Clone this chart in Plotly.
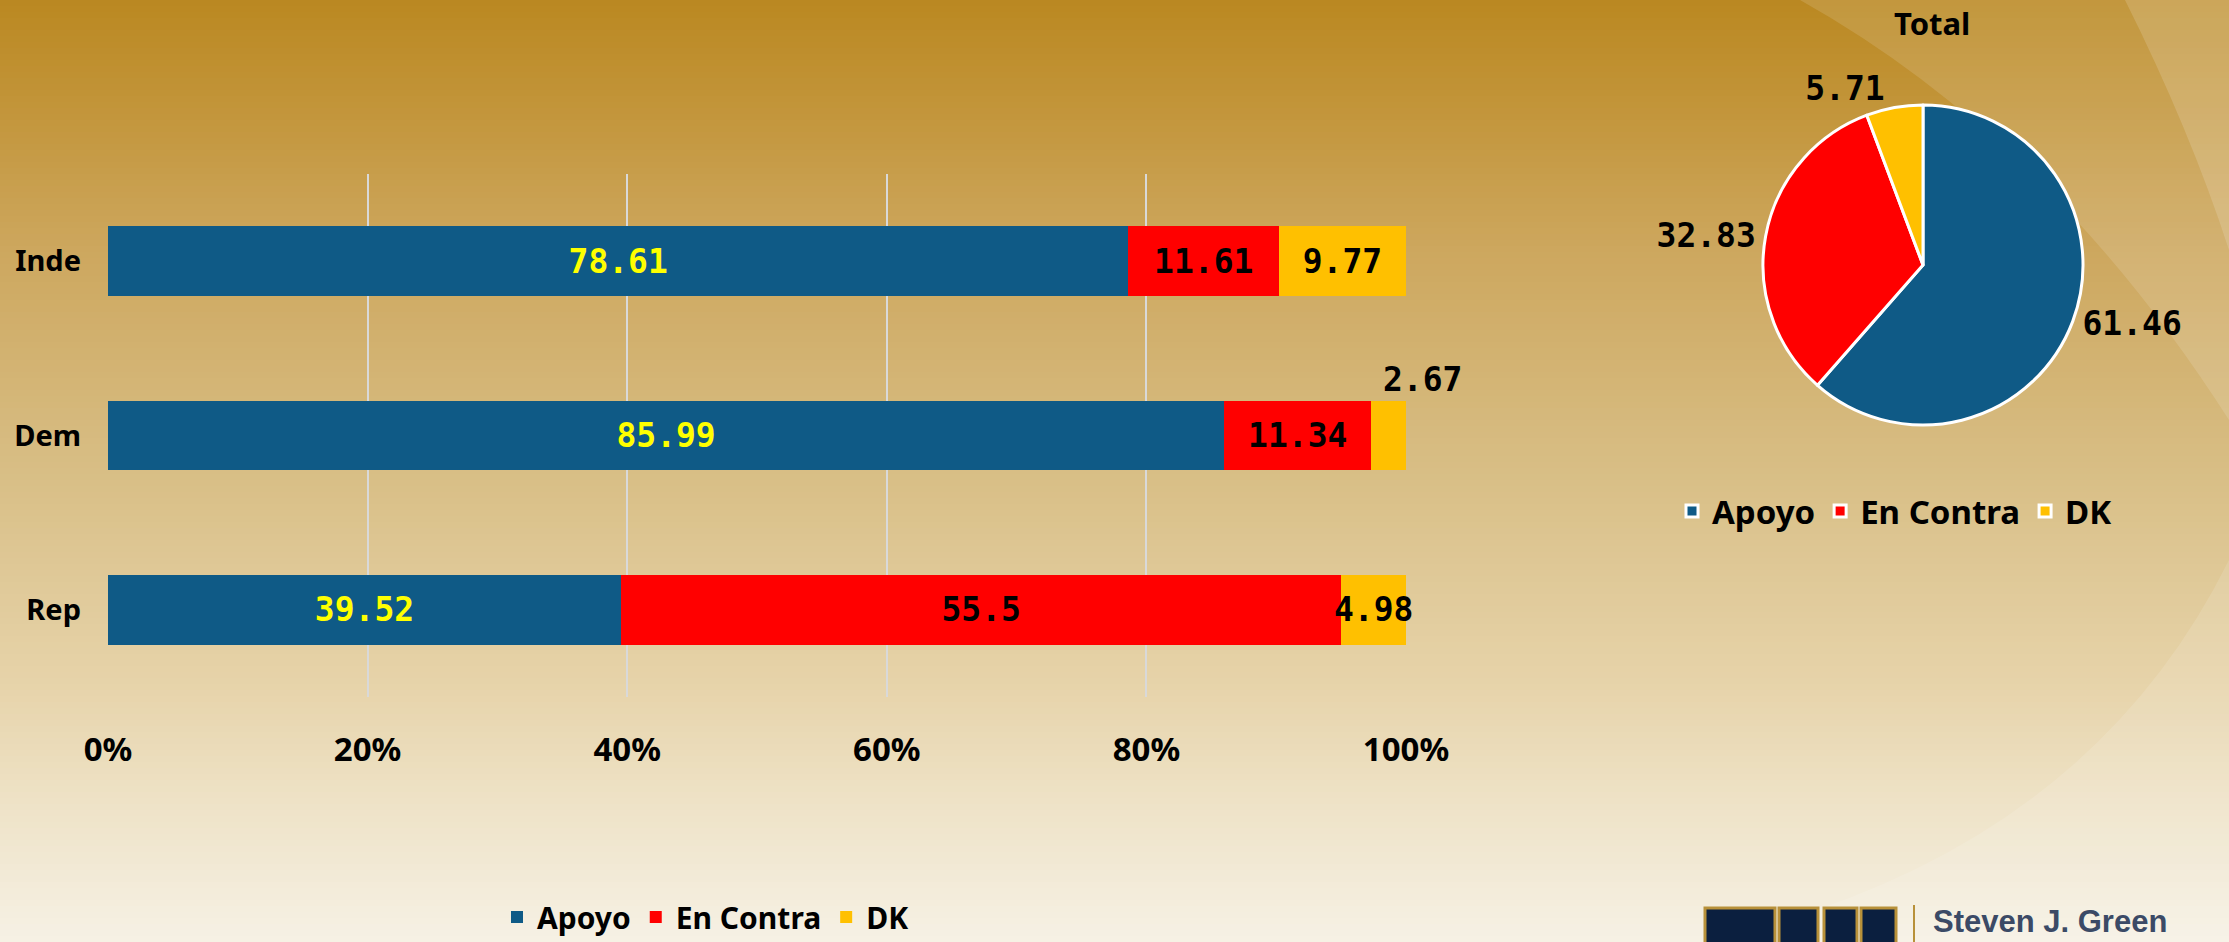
import plotly.graph_objects as go

# ---------------- data ----------------
groups = ["Inde", "Dem", "Rep"]
apoyo = [78.61, 85.99, 39.52]
en_contra = [11.61, 11.34, 55.5]
dk = [9.77, 2.67, 4.98]
series_names = ["Apoyo", "En Contra", "DK"]
series_colors = ["#0F5A86", "#FF0000", "#FFC000"]
label_colors = ["#FFFF00", "#000000", "#000000"]
pie_title = "Total"
pie_values = [61.46, 32.83, 5.71]
x_ticks = [0, 20, 40, 60, 80, 100]
x_tick_labels = ["0%", "20%", "40%", "60%", "80%", "100%"]
logo_text = "Steven J. Green"
logo_text2 = "School of International & Public Affairs"

W, H = 2229, 942
SANS = "Noto Sans"
MONO = "DejaVu Sans Mono"


def px_x(x):
    return x / W


def px_y(y):
    return 1 - y / H


fig = go.Figure()
annotations = []
label_font = dict(family=MONO, size=33, color="#000000", weight="bold")

# ---------------- stacked bars ----------------
series_vals = [apoyo, en_contra, dk]
for name, vals, color, tcol in zip(series_names, series_vals, series_colors, label_colors):
    if name == "DK":
        txt = [f"{v}" if v >= 6 else "" for v in vals]
    else:
        txt = [f"{v}" for v in vals]
    fig.add_trace(go.Bar(
        y=groups, x=vals, orientation="h", name=name,
        marker=dict(color=color, line=dict(width=0)),
        width=0.4,
        text=txt, textposition="inside", insidetextanchor="middle",
        textangle=0, constraintext="none", cliponaxis=False,
        textfont=dict(family=MONO, size=33, color=tcol, weight="bold"),
        hoverinfo="skip",
        legend="legend",
    ))

# small DK values: centred (overflowing) or placed above the bar
for g, a, e, d in zip(groups, apoyo, en_contra, dk):
    if d < 3:
        annotations.append(dict(
            x=a + e + d, y=g, xref="x", yref="y", text=f"{d}",
            showarrow=False, xanchor="center", yanchor="middle",
            xshift=16, yshift=56, font=label_font,
        ))
    elif d < 6:
        annotations.append(dict(
            x=a + e + d / 2, y=g, xref="x", yref="y", text=f"{d}",
            showarrow=False, xanchor="center", yanchor="middle",
            font=label_font,
        ))

# ---------------- pie ----------------
fig.add_trace(go.Pie(
    labels=series_names, values=pie_values,
    marker=dict(colors=series_colors, line=dict(color="#FFFFFF", width=3)),
    sort=False, direction="clockwise", rotation=0,
    textposition="outside", textinfo="value", texttemplate="%{value}",
    textfont=label_font,
    domain=dict(x=[px_x(1763), px_x(2083)], y=[px_y(425), px_y(105)]),
    legend="legend2", hoverinfo="skip",
))

annotations.append(dict(
    x=px_x(1932), y=px_y(23), xref="paper", yref="paper", text=pie_title,
    showarrow=False, xanchor="center", yanchor="middle",
    font=dict(family=SANS, size=31, color="#000000", weight="bold"),
))

# ---------------- background gradient ----------------
stops = [
    (0, (186, 136, 33)),
    (100, (194, 148, 56)),
    (250, (205, 167, 94)),
    (470, (216, 190, 133)),
    (690, (231, 212, 171)),
    (800, (238, 226, 198)),
    (942, (246, 241, 229)),
]


def grad_color(y):
    for (y0, c0), (y1, c1) in zip(stops[:-1], stops[1:]):
        if y0 <= y <= y1:
            t = (y - y0) / (y1 - y0)
            c = [round(c0[i] + (c1[i] - c0[i]) * t) for i in range(3)]
            return f"rgb({c[0]},{c[1]},{c[2]})"
    return "rgb(246,241,229)"


shapes = []
step = 6
for y in range(0, H, step):
    shapes.append(dict(
        type="rect", xref="paper", yref="paper", layer="below",
        x0=0, x1=1, y0=px_y(min(y + step + 1, H)), y1=px_y(y),
        fillcolor=grad_color(y + step / 2), line=dict(width=0),
    ))


def path_paper(points_px):
    parts = []
    for cmd, pts in points_px:
        coords = " ".join(f"{px_x(x):.5f},{px_y(y):.5f}" for x, y in pts)
        parts.append(f"{cmd} {coords}")
    return " ".join(parts) + " Z"


# light diagonal sweeps on the right
shapes.append(dict(
    type="path", xref="paper", yref="paper", layer="below",
    path=path_paper([("M", [(1800, 0)]), ("Q", [(2050, 140), (2229, 420)]), ("L", [(2229, 0)])]),
    fillcolor="rgba(255,255,255,0.13)", line=dict(width=0),
))
shapes.append(dict(
    type="path", xref="paper", yref="paper", layer="below",
    path=path_paper([("M", [(2125, 0)]), ("Q", [(2190, 130), (2229, 250)]), ("L", [(2229, 0)])]),
    fillcolor="rgba(255,255,255,0.15)", line=dict(width=0),
))
shapes.append(dict(
    type="path", xref="paper", yref="paper", layer="below",
    path=path_paper([("M", [(2229, 560)]), ("Q", [(2080, 860), (1700, 942)]), ("L", [(2229, 942)])]),
    fillcolor="rgba(255,255,255,0.12)", line=dict(width=0),
))

# ---------------- logo (bottom right) ----------------
navy = "#0B1F3F"
gold = "#B8913A"
for x0, x1 in [(1705, 1775), (1779, 1818), (1824, 1857), (1861, 1896)]:
    shapes.append(dict(
        type="rect", xref="paper", yref="paper", layer="above",
        x0=px_x(x0), x1=px_x(x1), y0=px_y(950), y1=px_y(908),
        fillcolor=navy, line=dict(color=gold, width=3),
    ))
shapes.append(dict(
    type="line", xref="paper", yref="paper", layer="above",
    x0=px_x(1914), x1=px_x(1914), y0=px_y(942), y1=px_y(905),
    line=dict(color=gold, width=2),
))
annotations.append(dict(
    x=px_x(1931), y=px_y(921), xref="paper", yref="paper", text=logo_text,
    showarrow=False, xanchor="left", yanchor="middle",
    font=dict(family="Liberation Sans", size=31, color="#3B4A66", weight="bold"),
))
annotations.append(dict(
    x=px_x(1931), y=px_y(956), xref="paper", yref="paper", text=logo_text2,
    showarrow=False, xanchor="left", yanchor="middle",
    font=dict(family="Liberation Sans", size=31, color="#3B4A66", weight="bold"),
))

# ---------------- layout ----------------
fig.update_layout(
    width=W, height=H,
    margin=dict(l=0, r=0, t=0, b=0, autoexpand=False),
    paper_bgcolor="rgb(186,136,33)",
    plot_bgcolor="rgba(0,0,0,0)",
    barmode="stack",
    bargap=0.6,
    shapes=shapes,
    annotations=annotations,
    xaxis=dict(
        domain=[px_x(108), px_x(1406)],
        range=[0, 100],
        tickvals=x_ticks, ticktext=x_tick_labels,
        showgrid=True, gridcolor="#D9D9D9", gridwidth=2,
        zeroline=False, showline=False, ticks="",
        ticklabelstandoff=30,
        tickfont=dict(family=SANS, size=33, color="#000000", weight="bold"),
        fixedrange=True,
    ),
    yaxis=dict(
        domain=[px_y(697), px_y(174)],
        type="category",
        categoryorder="array", categoryarray=["Rep", "Dem", "Inde"],
        range=[-0.5, 2.5],
        showgrid=False, zeroline=False, showline=False, ticks="",
        ticklabelstandoff=26,
        tickfont=dict(family=SANS, size=29, color="#000000", weight="bold"),
        fixedrange=True,
    ),
    legend=dict(
        orientation="h", x=px_x(497), xanchor="left",
        y=px_y(917), yanchor="middle",
        font=dict(family=SANS, size=30, color="#000000", weight="bold"),
        bgcolor="rgba(0,0,0,0)", itemwidth=30, traceorder="normal",
    ),
    legend2=dict(
        orientation="h", x=px_x(1672), xanchor="left",
        y=px_y(511), yanchor="middle",
        font=dict(family=SANS, size=33, color="#000000", weight="bold"),
        bgcolor="rgba(0,0,0,0)", itemwidth=30, traceorder="normal",
    ),
    showlegend=True,
)

fig.write_html(
    "out.html",
    config={"displayModeBar": False},
    post_script="document.body.style.margin='0px';document.body.style.overflow='hidden';",
)
